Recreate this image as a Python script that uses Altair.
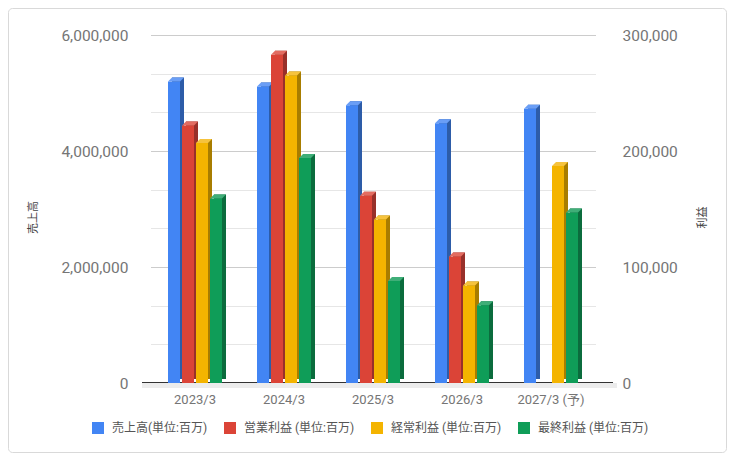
import altair as alt
import pandas as pd

categories = ["2023/3", "2024/3", "2025/3", "2026/3", "2027/3 (予)"]
series_names = ["売上高(単位:百万)", "営業利益 (単位:百万)", "経常利益 (単位:百万)", "最終利益 (単位:百万)"]
sales = [5200000, 5110000, 4790000, 4480000, 4730000]
operating = [222000, 283000, 161500, 109000, None]
ordinary = [207000, 265000, 141000, 84000, 187000]
net = [159000, 194000, 88000, 67000, 147000]

front_colors = ["#4285f4", "#db4437", "#f4b400", "#0f9d58"]
side_colors = ["#2d5ca8", "#98302a", "#a87d00", "#0b6c3d"]
top_colors = ["#6a9ef6", "#e36c61", "#f6c33d", "#3fae78"]
side_map = dict(zip(series_names, side_colors))
top_map = dict(zip(series_names, top_colors))

rows_sales = [{"cat": c, "series": series_names[0], "value": v} for c, v in zip(categories, sales)]
rows_profit = []
for name, vals in zip(series_names[1:], [operating, ordinary, net]):
    for c, v in zip(categories, vals):
        if v is not None:
            rows_profit.append({"cat": c, "series": name, "value": v})
df_sales = pd.DataFrame(rows_sales)
df_profit = pd.DataFrame(rows_profit)
for df in (df_sales, df_profit):
    df["side"] = df["series"].map(side_map)
    df["top"] = df["series"].map(top_map)

W, H = 471, 348
FONT = "Roboto, 'Noto Sans CJK JP', sans-serif"
front_range = [8.5, 453.5]
side_range = [12.5, 457.5]
TOP_SHAPE = "M -0.6 0 L 0.6 0 L 1.0 -0.4 L -0.2 -0.4 Z"


def xenc(rng, axis=None):
    return alt.X("cat:N", sort=categories,
                 scale=alt.Scale(domain=categories, range=rng, paddingInner=0, paddingOuter=0),
                 axis=axis)


xoff = alt.XOffset("series:N",
                   scale=alt.Scale(domain=series_names, range=[17.5, 71.5], paddingInner=2 / 14, paddingOuter=0))

major_test = "abs(datum.value/2000000 - round(datum.value/2000000)) < 0.001"
left_axis = alt.Axis(
    orient="left", values=[round(i * 2000000 / 3) for i in range(10)],
    labelExpr=f"{major_test} ? format(datum.value, ',') : ''",
    grid=True,
    gridColor={"condition": {"test": major_test, "value": "#cccccc"}, "value": "#e6e6e6"},
    gridOpacity={"condition": {"test": "datum.value == 0", "value": 0}, "value": 1},
    ticks=False, domain=False, labelPadding=14,
    labelFont=FONT, labelFontSize=15.5, labelColor="#757575",
    title="売上高", titleFont=FONT, titleFontSize=11, titleFontWeight="normal", titleColor="#444444",
    titleAngle=270, titleX=-109, titleY=182, titleAlign="center", titleBaseline="middle")

right_axis = alt.Axis(
    orient="right", values=[0, 100000, 200000, 300000],
    labelExpr="format(datum.value, ',')",
    grid=False, ticks=False, domain=False, labelPadding=9,
    labelFont=FONT, labelFontSize=15.5, labelColor="#757575",
    title="利益", titleFont=FONT, titleFontSize=11, titleFontWeight="normal", titleColor="#444444",
    titleAngle=270, titleX=89, titleY=182, titleAlign="center", titleBaseline="middle")

x_axis = alt.Axis(orient="bottom", title=None, ticks=False, domain=False, labelPadding=10,
                  labelFont=FONT, labelFontSize=13, labelColor="#757575", labelAngle=0, grid=False)


def yenc(maxv, axis=None):
    return alt.Y("value:Q", scale=alt.Scale(domain=[0, maxv], nice=False), axis=axis)


legend = alt.Legend(orient="none", legendX=-50, legendY=387, direction="horizontal", title=None,
                    symbolType="square", symbolSize=144, symbolStrokeWidth=0, symbolOpacity=1,
                    labelOffset=8, columnPadding=16, labelFont=FONT, labelFontSize=12,
                    labelColor="#555555", padding=0, offset=0)
color_enc = alt.Color("series:N", scale=alt.Scale(domain=series_names, range=front_colors), legend=legend)

one = pd.DataFrame({"a": [0]})
border = alt.Chart(one).mark_rect(fillOpacity=0, stroke="#d9d9d9", strokeWidth=1, cornerRadius=4).encode(
    x=alt.value(-133.5), x2=alt.value(584.5), y=alt.value(-26.5), y2=alt.value(417.5))
floor = alt.Chart(one).mark_rect(color="#ececec").encode(
    x=alt.value(0), x2=alt.value(W + 4), y=alt.value(H), y2=alt.value(H + 5))
baseline = alt.Chart(one).mark_rule(color="#333333", strokeWidth=1).encode(
    x=alt.value(0), x2=alt.value(W), y=alt.value(H - 0.5))


def group(df, maxv, yaxis, with_xaxis):
    side = alt.Chart(df).mark_bar(yOffset=-4, y2Offset=0).encode(
        x=xenc(side_range), xOffset=xoff, y=yenc(maxv),
        fill=alt.Fill("side:N", scale=None))
    front = alt.Chart(df).mark_bar(y2Offset=4, opacity=1).encode(
        x=xenc(front_range, x_axis if with_xaxis else None), xOffset=xoff, y=yenc(maxv, yaxis),
        color=color_enc)
    top = alt.Chart(df).mark_point(shape=TOP_SHAPE, size=400, filled=True, strokeWidth=0, opacity=1).encode(
        x=xenc(front_range), xOffset=xoff, y=yenc(maxv),
        fill=alt.Fill("top:N", scale=None))
    return [side, front, top]


layers = [border, floor, baseline] + group(df_sales, 6000000, left_axis, True) + group(df_profit, 300000, right_axis, False)

chart = alt.layer(*layers).properties(
    width=W, height=H,
    padding={"left": 134, "top": 27, "right": 114, "bottom": 70},
    autosize=alt.AutoSizeParams(type="none"),
).resolve_scale(x="independent", y="independent").configure_view(stroke=None)

chart.save("out.html", embed_options={"renderer": "svg", "actions": False})
